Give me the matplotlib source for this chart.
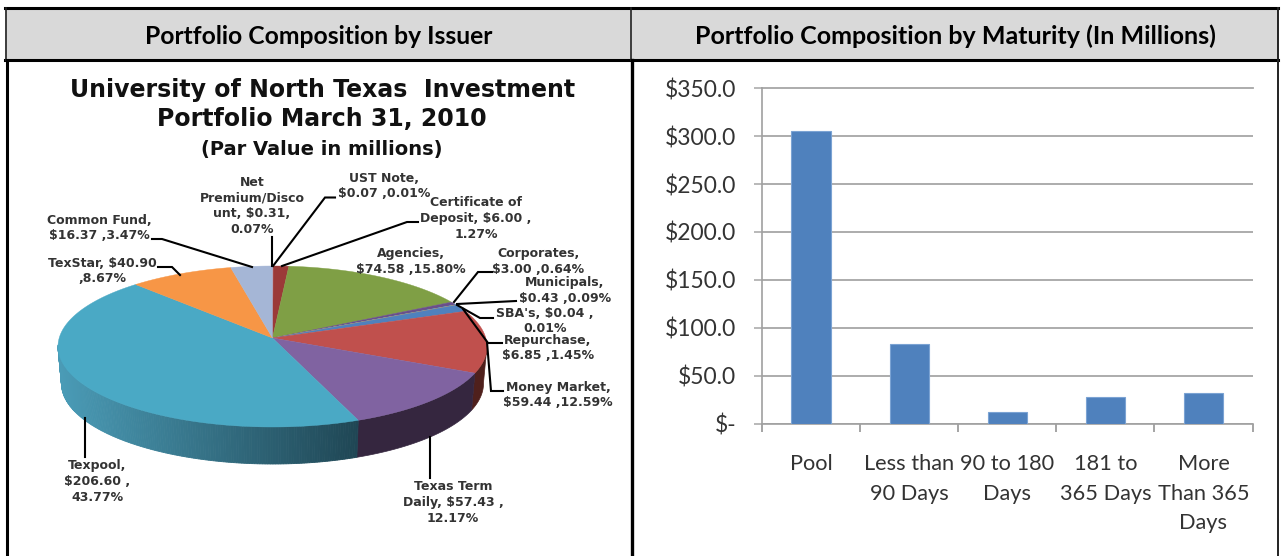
import numpy as np
import matplotlib
matplotlib.use("Agg")
import matplotlib.pyplot as plt
from matplotlib.colors import to_rgb

#DATA
issuers = ["UST Note", "Net Premium/Discount", "Certificate of Deposit", "Agencies", "Corporates",
           "Municipals", "SBA's", "Repurchase", "Money Market", "Texas Term Daily", "Texpool",
           "TexStar", "Common Fund"]
par_values = [0.07, 0.31, 6.00, 74.58, 3.00, 0.43, 0.04, 6.85, 59.44, 57.43, 206.60, 40.90, 16.37]
par_percents = [0.01, 0.07, 1.27, 15.80, 0.64, 0.09, 0.01, 1.45, 12.59, 12.17, 43.77, 8.67, 3.47]
maturity_labels = ["Pool", "Less than\n90 Days", "90 to 180\nDays", "181 to\n365 Days", "More\nThan 365\nDays"]
maturity_values = [305.5, 82.8, 12, 28, 32]
money_ticks = [0, 50, 100, 150, 200, 250, 300, 350]
money_labels = ["$-", "$50.0", "$100.0", "$150.0", "$200.0", "$250.0", "$300.0", "$350.0"]

W, H = 1281, 556
fig = plt.figure(figsize=(W / 100, H / 100), dpi=100)
ax = fig.add_axes([0, 0, 1, 1])
ax.set_xlim(0, W)
ax.set_ylim(H, 0)
ax.axis("off")

#Header band and table frame
ax.fill([5, 1278, 1278, 5], [8, 8, 60, 60], color="#d9d9d9", lw=0)
ax.plot([5, 1278], [8, 8], color="black", lw=2.2)
ax.plot([5, 1278], [60, 60], color="black", lw=2.2)
ax.plot([5.5, 5.5], [8, 60], color="#222222", lw=1.2)
ax.plot([631, 631], [8, 60], color="#222222", lw=1.2)
ax.plot([1278, 1278], [8, 556], color="#222222", lw=1.4)
ax.plot([6.5, 6.5], [60, 556], color="black", lw=2.2)
ax.plot([631.5, 631.5], [60, 556], color="black", lw=2.4)
ax.text(319, 36, "Portfolio Composition by Issuer", ha="center", va="center",
        family="Lato", weight="bold", fontsize=17.7, color="black")
ax.text(955.5, 36, "Portfolio Composition by Maturity (In Millions)", ha="center", va="center",
        family="Lato", weight="bold", fontsize=18, color="black")

#Pie title
title_lines = ["University of North Texas  Investment", "Portfolio March 31, 2010"]
ax.text(323, 90, title_lines[0], ha="center", va="center", family="DejaVu Sans", weight="bold",
        fontsize=17, color="#111111")
ax.text(322, 119, title_lines[1], ha="center", va="center", family="DejaVu Sans", weight="bold",
        fontsize=17, color="#111111")
ax.text(322, 149, "(Par Value in millions)", ha="center", va="center", family="DejaVu Sans", weight="bold",
        fontsize=14, color="#111111")

#Pie in perspective: the tilted disc has its apex above the centre of the rim ellipse
cx, cy, rx, ry = 272.5, 346.5, 214.5, 80.5
apex_y = 338.0
depth, rx_low = 37.0, 211.0
a = (cy - apex_y) / ry


def rim(theta):
    u, v = np.sin(theta), np.cos(theta)
    k = 1 + a * v
    return u * np.sqrt(1 - a * a) / k, (v + a) / k


slice_colors = ["#4f81bd", "#c0504d", "#9b3a38", "#7f9f45", "#6b4f8a", "#4aa9c5", "#f79646",
                "#4f81bd", "#c0504d", "#8063a1", "#4aa9c5", "#f79646", "#a5b6d6"]
wall_colors = {8: "#4f201c", 9: "#35263f"}
teal_light, teal_dark = np.array(to_rgb("#4a9bb6")), np.array(to_rgb("#1f4654"))

edges = np.cumsum([0] + par_values) / np.sum(par_values) * 2 * np.pi

#Side wall first, the top faces go over it
for i in range(len(par_values)):
    t = np.linspace(edges[i], edges[i + 1], max(3, int((edges[i + 1] - edges[i]) * 90)))
    u, v = rim(t)
    keep = v <= 0.02
    if keep.sum() < 2:
        continue
    u, v = u[keep], v[keep]
    xt, yt = cx + rx * u, cy - ry * v
    xb, yb = cx + rx_low * u, cy + depth - ry * v
    if i == 10:
        #Texpool wall gets the gradient, strip by strip
        for j in range(len(u) - 1):
            f = np.clip((xt[j] - 60) / 300, 0, 1)
            c = teal_light + (teal_dark - teal_light) * f
            ax.fill([xt[j], xt[j + 1], xb[j + 1], xb[j]], [yt[j], yt[j + 1], yb[j + 1], yb[j]],
                    color=c, lw=0.6, zorder=2)
    else:
        ax.fill(np.r_[xt, xb[::-1]], np.r_[yt, yb[::-1]], color=wall_colors.get(i, "#333333"),
                lw=0.5, zorder=2)

for i in range(len(par_values)):
    t = np.linspace(edges[i], edges[i + 1], max(3, int((edges[i + 1] - edges[i]) * 90)))
    u, v = rim(t)
    ax.fill(np.r_[cx, cx + rx * u], np.r_[apex_y, cy - ry * v], color=slice_colors[i],
            lw=0.3, zorder=3)

#Leader lines
leaders = [
    [(273, 266), (325, 197.5), (335, 197.5)],
    [(272, 266), (272, 237)],
    [(282, 266), (407, 222), (418, 222)],
    [(152, 239), (162, 239), (252, 267)],
    [(158, 267), (172, 267), (180, 275)],
    [(492, 272), (478, 272), (454, 302)],
    [(516, 301), (457, 304)],
    [(493, 318), (480, 318), (457, 305)],
    [(502, 343), (488, 343), (463, 309)],
    [(503, 391), (491, 391), (487, 342)],
    [(85, 418), (85, 457)],
    [(430, 437), (430, 478)],
]
for pts in leaders:
    ax.plot(*zip(*pts), color="black", lw=1.5, zorder=4, solid_joinstyle="miter")

#Slice labels, line breaks as in the original
v, p = par_values, par_percents
labels = [
    (384, 186, f"UST Note,\n${v[0]:.2f} ,{p[0]:.2f}%"),
    (252, 206, f"Net\nPremium/Disco\nunt, ${v[1]:.2f},\n{p[1]:.2f}%"),
    (476, 218.5, f"Certificate of\nDeposit, ${v[2]:.2f} ,\n{p[2]:.2f}%"),
    (411, 261.5, f"Agencies,\n${v[3]:.2f} ,{p[3]:.2f}%"),
    (538, 261.5, f"Corporates,\n${v[4]:.2f} ,{p[4]:.2f}%"),
    (565, 290.5, f"Municipals,\n${v[5]:.2f} ,{p[5]:.2f}%"),
    (545, 321, f"SBA's, ${v[6]:.2f} ,\n{p[6]:.2f}%"),
    (548, 348, f"Repurchase,\n${v[7]:.2f} ,{p[7]:.2f}%"),
    (558, 395, f"Money Market,\n${v[8]:.2f} ,{p[8]:.2f}%"),
    (453, 502.5, f"Texas Term\nDaily, ${v[9]:.2f} ,\n{p[9]:.2f}%"),
    (97, 481.5, f"Texpool,\n${v[10]:.2f} ,\n{p[10]:.2f}%"),
    (102, 271, f"TexStar, ${v[11]:.2f}\n,{p[11]:.2f}%"),
    (99, 228, f"Common Fund,\n${v[12]:.2f} ,{p[12]:.2f}%"),
]
for x, y, s in labels:
    ax.text(x, y, s, ha="center", va="center", family="DejaVu Sans", weight="bold", fontsize=9,
            color="#333333", linespacing=1.27, zorder=5, parse_math=False)

#Bar chart, axis box
left, right, base, top = 762.0, 1252.5, 423.5, 88.3
ax2 = fig.add_axes([left / W, (H - base) / H, (right - left) / W, (base - top) / H])
ax2.patch.set_alpha(0)
xs = np.arange(len(maturity_values))
ax2.bar(xs, maturity_values, width=0.4, color="#4f81bd", edgecolor="#7ba3d3", linewidth=0.8, zorder=3)
ax2.set_xlim(-0.5, len(xs) - 0.5)
ax2.set_ylim(0, 350)
ax2.set_yticks(money_ticks)
ax2.set_yticklabels(money_labels, family="Lato", fontsize=16.5, color="#333333", parse_math=False)
ax2.yaxis.grid(True, color="#a6a6a6", linewidth=1.3, zorder=1)
ax2.get_ygridlines()[-1].set_clip_on(False)
ax2.set_xticks(np.arange(len(xs) + 1) - 0.5)
ax2.set_xticklabels([])
ax2.set_xticks(xs, minor=True)
ax2.set_xticklabels(maturity_labels, minor=True, family="Lato", fontsize=15.7, color="#333333",
                    linespacing=1.6)
ax2.tick_params(axis="x", which="major", length=6, width=1.1, color="#8c8c8c")
ax2.tick_params(axis="x", which="minor", length=0, pad=22)
ax2.tick_params(axis="y", length=5.5, width=1.1, color="#a6a6a6", pad=13)
for side in ["top", "right"]:
    ax2.spines[side].set_visible(False)
for side in ["left", "bottom"]:
    ax2.spines[side].set_color("#a0a0a0")
    ax2.spines[side].set_linewidth(1.2)

fig.savefig("out.png", dpi=100)
